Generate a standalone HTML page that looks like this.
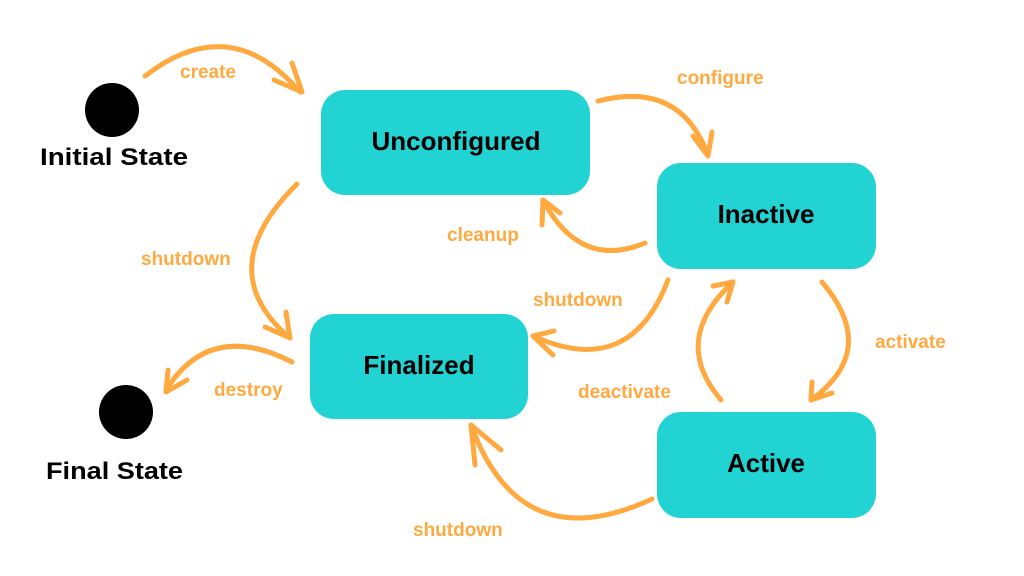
<!DOCTYPE html>
<html><head><style>
html,body{margin:0;padding:0;background:#fff;}
svg{display:block}
text{font-family:"Liberation Sans",sans-serif;font-weight:bold}
.l{fill:#ffa940;font-size:19px}
.n{fill:#000;font-size:26px;text-anchor:middle}
.a{fill:none;stroke:#ffa940;stroke-width:5;stroke-linecap:round;stroke-linejoin:round}
</style></head><body>
<svg width="1024" height="576" viewBox="0 0 1024 576">
<rect x="321" y="90" width="269" height="105" rx="24" fill="#22d3d4"/>
<rect x="657" y="163" width="219" height="106" rx="24" fill="#22d3d4"/>
<rect x="310" y="314" width="218" height="105" rx="24" fill="#22d3d4"/>
<rect x="657" y="412" width="219" height="106" rx="24" fill="#22d3d4"/>
<text class="n" x="456" y="150">Unconfigured</text>
<text class="n" x="766" y="223">Inactive</text>
<text class="n" x="419" y="374">Finalized</text>
<text class="n" x="766" y="472">Active</text>
<circle cx="112" cy="110" r="27" fill="#000"/>
<circle cx="126" cy="412" r="27" fill="#000"/>
<text x="40" y="165" font-size="24" fill="#000" textLength="148" lengthAdjust="spacingAndGlyphs">Initial State</text>
<text x="46" y="479" font-size="24" fill="#000" textLength="137" lengthAdjust="spacingAndGlyphs">Final State</text>
<path class="a" d="M145,76 Q230,10 300,92"/><path class="a" d="M292,63 L302,92 L274,80"/>
<text class="l" x="180" y="78">create</text>
<path class="a" d="M598,101 Q680,80 708,155"/><path class="a" d="M693,136 L708,156 L712,132"/>
<text class="l" x="677" y="84">configure</text>
<path class="a" d="M645,243 Q580,270 543,200"/><path class="a" d="M542,225 L543,200 L560,213"/>
<text class="l" x="447" y="241">cleanup</text>
<path class="a" d="M297,184 Q210,270 290,338"/><path class="a" d="M265,327 L290,338 L286,312"/>
<text class="l" x="141" y="265">shutdown</text>
<path class="a" d="M668,280 Q630,380 533,336"/><path class="a" d="M554,331 L533,336 L553,355"/>
<text class="l" x="533" y="306">shutdown</text>
<path class="a" d="M822,282 Q880,350 811,400"/><path class="a" d="M812,382 L811,400 L832,393"/>
<text class="l" x="875" y="348">activate</text>
<path class="a" d="M721,400 Q670,340 733,282"/><path class="a" d="M713,286 L733,282 L727,302"/>
<text class="l" x="578" y="398">deactivate</text>
<path class="a" d="M652,499 Q520,560 471,425"/><path class="a" d="M475,465 L471,425 L501,450"/>
<text class="l" x="413" y="536">shutdown</text>
<path class="a" d="M292,362 Q210,320 166,390"/><path class="a" d="M187,380 L166,392 L168,370"/>
<text class="l" x="214" y="396">destroy</text>
</svg>
</body></html>
